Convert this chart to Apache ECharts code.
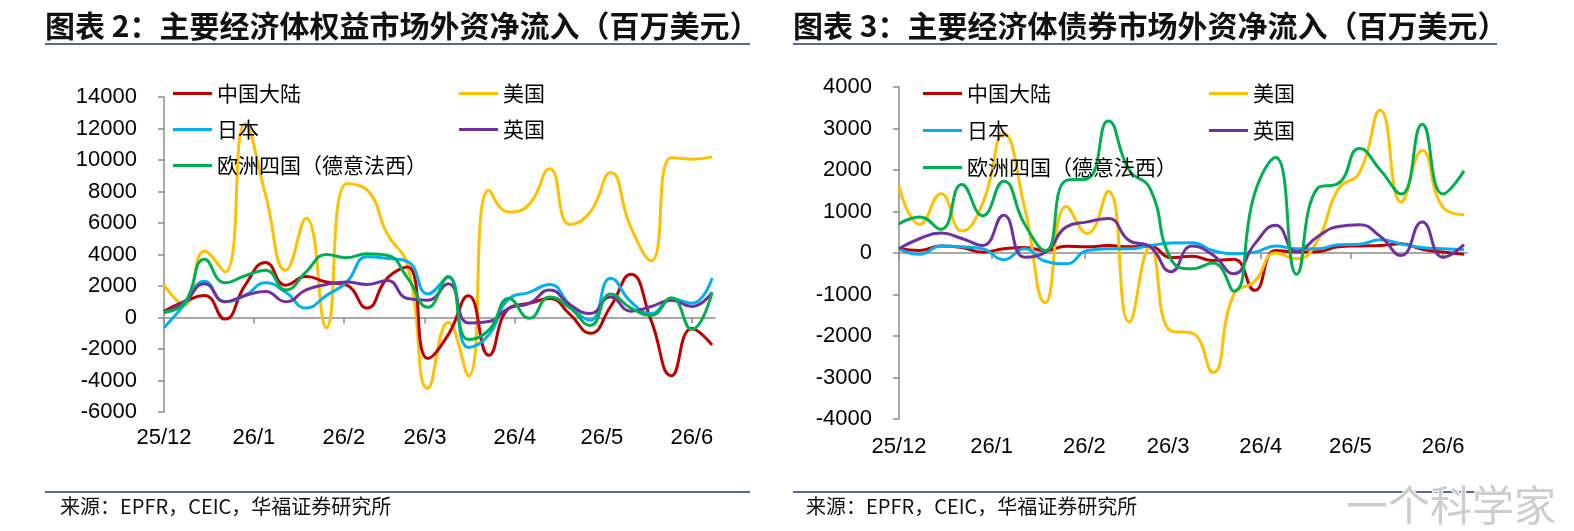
<!DOCTYPE html>
<html>
<head>
<meta charset="utf-8">
<script src="https://cdn.jsdelivr.net/npm/echarts@6/dist/echarts.min.js"></script>
<style>
  html, body { margin: 0; padding: 0; background: #fff; }
  #main { width: 1574px; height: 531px; }
</style>
</head>
<body>
<div id="main"></div>
<script>
// 周度数据，第一期为 25/12 月初，每 7 天一期
var weekDays = [];
for (var i = 0; i < 28; i++) weekDays.push(i * 7);

// 月份刻度（距 2025-12-01 的天数）
var monthDays = [0, 31, 62, 90, 121, 151, 182];
var monthLabels = ['25/12', '26/1', '26/2', '26/3', '26/4', '26/5', '26/6'];

var seriesNames = ['中国大陆', '美国', '日本', '英国', '欧洲四国（德意法西）'];
var seriesColors = ['#c00000', '#ffc000', '#00b0f0', '#7030a0', '#00b050'];

// 图表2 权益市场
var cnEquity = [400, 1000, 1400, -100, 2050, 3500, 2050, 2600, 2250, 2050, 600, 2500, 3200, -2600, -1100, 1380, -2400, 600, 900, 1200, 200, -1000, 700, 2750, -200, -3700, -700, -1750];
var usEquity = [2050, 800, 4200, 2900, 12300, 7800, 3000, 6300, -650, 8500, 8100, 5300, 3300, -4500, -300, -3700, 8100, 6700, 7200, 9450, 5900, 6700, 9200, 5700, 3600, 10150, 10050, 10200];
var jpEquity = [-650, 800, 2300, 1000, 1400, 2200, 1600, 600, 1400, 2250, 3850, 3750, 3550, 1500, 2550, -1900, -1100, 1200, 1600, 2100, 800, -170, 2500, 1000, 250, 1200, 900, 2500];
var ukEquity = [300, 1000, 2150, 1000, 1400, 1650, 1000, 1750, 2100, 2250, 2100, 2350, 1200, 1100, 2150, -350, -250, 600, 900, 1750, 800, 250, 1300, 400, 700, 1100, 700, 1600];
var euEquity = [350, 900, 3700, 2200, 2650, 3000, 1750, 2900, 4000, 3800, 4050, 3950, 2500, 650, 2600, -1400, -800, 1200, -50, 1300, 600, -500, 1500, 600, 150, 1250, -750, 1600];

// 图表3 债券市场
var cnBond = [100, 60, 170, 130, 20, 100, 130, 60, 160, 150, 180, 150, 160, -110, -80, -180, -150, -900, 60, 25, 30, 150, 170, 180, 220, 90, 25, -30];
var usBond = [1600, 690, 1430, 530, 1200, 2880, 1100, -1200, 1120, 470, 1490, -1660, 150, -1880, -1930, -2880, -1000, -680, 0, -140, 300, 1550, 1930, 3440, 1230, 2470, 1100, 920];
var jpBond = [100, -30, 170, 150, 100, -160, 100, -200, -260, 60, 100, 100, 180, 240, 250, 60, -20, 20, 170, 100, 100, 200, 210, 320, 220, 130, 100, 80];
var ukBond = [100, 350, 480, 350, 180, 910, -100, 20, 630, 750, 830, 300, 150, -450, 170, -50, -500, 220, 670, 30, 390, 640, 680, 400, -60, 750, -100, 200];
var euBond = [700, 870, 570, 1650, 900, 1730, 700, 60, 1750, 1790, 3180, 2000, 1550, -150, -380, -240, -920, 1440, 2300, -510, 1560, 1680, 2520, 2000, 1420, 3100, 1420, 1980];

var equityData = [cnEquity, usEquity, jpEquity, ukEquity, euEquity];
var bondData = [cnBond, usBond, jpBond, ukBond, euBond];

var axisGray = '#8c8c8c';
var numFont = 'Liberation Sans, Arial, sans-serif';
var cjkFont = 'Noto Sans CJK SC';

function pairs(values) {
  var out = [];
  for (var i = 0; i < values.length; i++) {
    out.push([weekDays[i], values[i]]);
  }
  return out;
}

function monthLabel(v) {
  var idx = monthDays.indexOf(v);
  return idx >= 0 ? monthLabels[idx] : '';
}

// 零轴上的线和刻度
function zeroAxis(grid) {
  return {
    type: 'value', gridIndex: grid, min: 0, max: 190, position: 'bottom',
    axisLine: { onZero: true, lineStyle: { color: axisGray, width: 1.5 } },
    axisTick: { show: true, length: 6, inside: false, customValues: monthDays, lineStyle: { color: axisGray, width: 1.5 } },
    axisLabel: { show: false },
    splitLine: { show: false }
  };
}

// 底部的月份标签
function labelAxis(grid, margin) {
  return {
    type: 'value', gridIndex: grid, min: 0, max: 190, position: 'bottom',
    axisLine: { show: false, onZero: false },
    axisTick: { show: false },
    axisLabel: {
      margin: margin, customValues: monthDays, formatter: monthLabel,
      fontSize: 22, fontFamily: numFont, color: '#000'
    },
    splitLine: { show: false }
  };
}

function valueAxis(grid, min, max, step) {
  return {
    type: 'value', gridIndex: grid, min: min, max: max, interval: step,
    axisLine: { show: true, lineStyle: { color: axisGray, width: 1.5 } },
    axisTick: { show: true, length: 6, lineStyle: { color: axisGray, width: 1.5 } },
    axisLabel: {
      margin: 27, fontSize: 22, fontFamily: numFont, color: '#000',
      formatter: function (v) { return String(v); }
    },
    splitLine: { show: false }
  };
}

function legendCol(left, top, gap, names) {
  return {
    left: left, top: top, orient: 'vertical', padding: 0,
    icon: 'rect', itemWidth: 39, itemHeight: 3, itemGap: gap,
    data: names,
    textStyle: { fontSize: 21, lineHeight: 20, fontFamily: cjkFont, color: '#000' }
  };
}

var series = [];
for (var s = 0; s < seriesNames.length; s++) {
  series.push({
    name: seriesNames[s], type: 'line', xAxisIndex: 0, yAxisIndex: 0,
    data: pairs(equityData[s]), smooth: 0.5, showSymbol: false, symbol: 'none',
    lineStyle: { width: 3, color: seriesColors[s] }, itemStyle: { color: seriesColors[s] },
    z: s === 1 ? 1 : 2
  });
}
for (var s = 0; s < seriesNames.length; s++) {
  series.push({
    name: seriesNames[s], type: 'line', xAxisIndex: 2, yAxisIndex: 1,
    data: pairs(bondData[s]), smooth: 0.5, showSymbol: false, symbol: 'none',
    lineStyle: { width: 3, color: seriesColors[s] }, itemStyle: { color: seriesColors[s] }
  });
}

var myChart = echarts.init(document.getElementById('main'));
myChart.setOption({
  animation: false,
  backgroundColor: '#fff',
  title: [
    { text: '图表 2：主要经济体权益市场外资净流入（百万美元）', left: 45, top: 11, padding: 0,
      textStyle: { fontSize: 30, fontWeight: 'bold', fontFamily: cjkFont, color: '#111' } },
    { text: '图表 3：主要经济体债券市场外资净流入（百万美元）', left: 793, top: 11, padding: 0,
      textStyle: { fontSize: 30, fontWeight: 'bold', fontFamily: cjkFont, color: '#111' } },
    { text: '来源：EPFR，CEIC，华福证券研究所', left: 60, top: 496, padding: 0,
      textStyle: { fontSize: 20, fontWeight: 'normal', fontFamily: cjkFont, color: '#111' } },
    { text: '来源：EPFR，CEIC，华福证券研究所', left: 806, top: 496, padding: 0,
      textStyle: { fontSize: 20, fontWeight: 'normal', fontFamily: cjkFont, color: '#111' } }
  ],
  legend: [
    legendCol(173, 83, 15, ['中国大陆', '日本', '欧洲四国（德意法西）']),
    legendCol(459, 83, 15, ['美国', '英国']),
    legendCol(923, 83, 16, ['中国大陆', '日本', '欧洲四国（德意法西）']),
    legendCol(1209, 83, 16, ['美国', '英国'])
  ],
  grid: [
    { left: 164, top: 97, width: 551, height: 315 },
    { left: 899, top: 87, width: 568, height: 332 }
  ],
  xAxis: [zeroAxis(0), labelAxis(0, 15), zeroAxis(1), labelAxis(1, 17)],
  yAxis: [valueAxis(0, -6000, 14000, 2000), valueAxis(1, -4000, 4000, 1000)],
  series: series,
  graphic: [
    { type: 'line', shape: { x1: 45, y1: 44, x2: 750, y2: 44 }, style: { stroke: '#1f3864', lineWidth: 1.5 } },
    { type: 'line', shape: { x1: 793, y1: 44, x2: 1497, y2: 44 }, style: { stroke: '#1f3864', lineWidth: 1.5 } },
    { type: 'line', shape: { x1: 45, y1: 492, x2: 750, y2: 492 }, style: { stroke: '#1f3864', lineWidth: 1.5 } },
    { type: 'line', shape: { x1: 793, y1: 492, x2: 1507, y2: 492 }, style: { stroke: '#1f3864', lineWidth: 1.5 } },
    { type: 'text', left: 1345, top: 483, z: 100,
      style: { text: '一个科学家', fontSize: 42, fontFamily: cjkFont, fill: 'rgba(200,200,200,0.9)', stroke: '#fff', lineWidth: 2 } }
  ]
});
</script>
</body>
</html>
